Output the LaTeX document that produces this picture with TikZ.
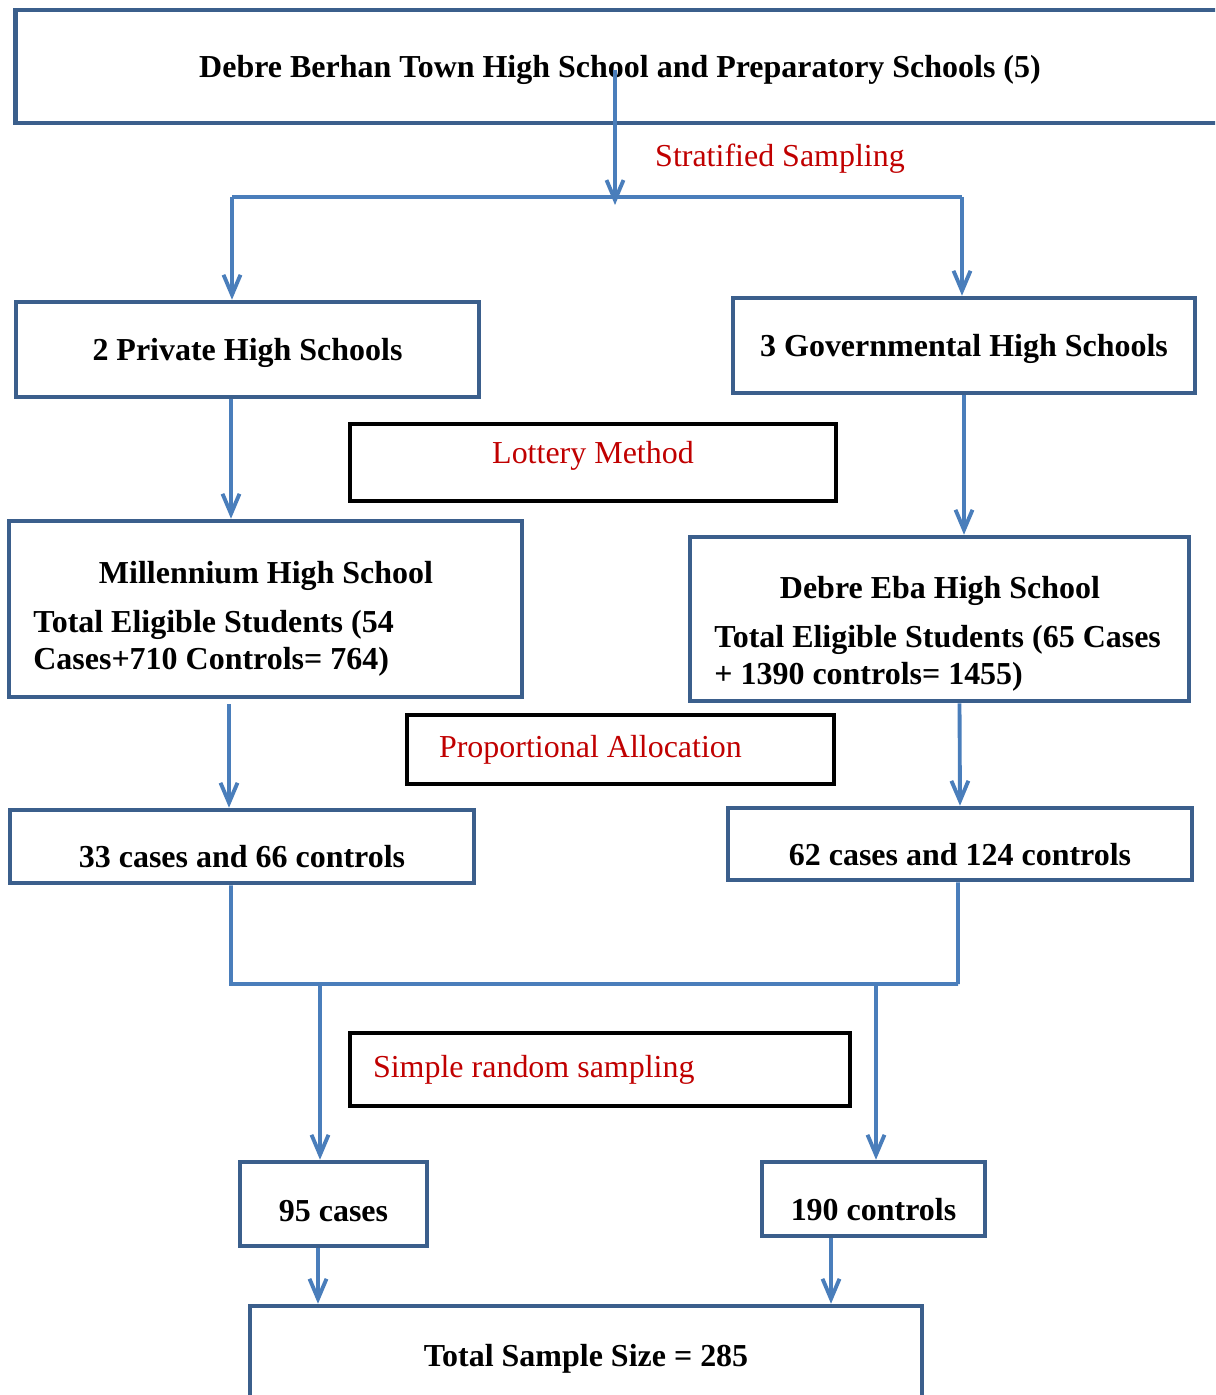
\documentclass[tikz,border=0pt]{standalone}
\usepackage{fontspec}
\setmainfont{Liberation Serif}
\usetikzlibrary{arrows.meta, positioning}

\definecolor{boxblue}{HTML}{3B5F8C}
\definecolor{flowblue}{HTML}{4A7EBB}
\definecolor{methodred}{HTML}{C00000}

\tikzset{
  box/.style={draw=boxblue, line width=2.6pt, fill=white, align=center, text depth=0pt,
    font=\bfseries\fontsize{18.2}{21}\selectfont},
  methodbox/.style={draw=black, line width=2.6pt, text=methodred,
    font=\fontsize{18.2}{21}\selectfont},
  sunk/.style={text height=#1, text depth=0pt},
  flow/.style={draw=flowblue, line width=2.2pt, -{Straight Barb[length=4mm, width=3.4mm]}},
  link/.style={draw=flowblue, line width=2.2pt}
}

\begin{document}
\begin{tikzpicture}[x=0.02cm, y=-0.02cm]
        \useasboundingbox (0,0) rectangle (1215,1395);
        \clip (0,0) rectangle (1215,1395);

        % boxes
        \node (top) [box, minimum width=24.18cm, minimum height=2.26cm] at (620,66.5)
          {Debre Berhan Town High School and Preparatory Schools (5)};
        \node (private) [box, minimum width=9.26cm, minimum height=1.9cm] at (247.5,349.5) {2 Private High Schools};
        \node (gov) [box, minimum width=9.24cm, minimum height=1.9cm] at (964,345.5) {3 Governmental High Schools};
        \node (mill) [box, minimum width=10.26cm, minimum height=3.52cm] at (265.5,609) {};
        \node (eba) [box, minimum width=9.98cm, minimum height=3.28cm] at (939.5,619) {};
        \node (c33) [box, sunk=24pt, minimum width=9.28cm, minimum height=1.46cm] at (242,846.5) {33 cases and 66 controls};
        \node (c62) [box, sunk=25pt, minimum width=9.28cm, minimum height=1.44cm] at (960,844) {62 cases and 124 controls};
        \node (cases) [box, sunk=19.6pt, minimum width=3.74cm, minimum height=1.68cm] at (333.5,1204) {95 cases};
        \node (controls) [box, sunk=25pt, minimum width=4.46cm, minimum height=1.48cm] at (873.5,1199) {190 controls};
        \node (total) [box, minimum width=13.44cm, minimum height=1.96cm] at (586,1355) {Total Sample Size = 285};

        % texts of the two school boxes
        \node (millname) [font=\bfseries\fontsize{18.2}{21}\selectfont, text depth=0pt] at (266,572) {Millennium High School};
        \node (millinfo) [font=\bfseries\fontsize{18.2}{21}\selectfont, align=left, anchor=west, inner sep=0pt] at (33,643)
          {Total Eligible Students (54\\Cases+710 Controls= 764)};
        \node (ebaname) [font=\bfseries\fontsize{18.2}{21}\selectfont, text depth=0pt] at (940,587) {Debre Eba High School};
        \node (ebainfo) [font=\bfseries\fontsize{18.2}{21}\selectfont, align=left, anchor=west, inner sep=0pt] at (714,658)
          {Total Eligible Students (65 Cases\\+ 1390 controls= 1455)};

        % sampling methods
        \node (strat) [text=methodred, font=\fontsize{18.2}{21}\selectfont] at (780,159) {Stratified Sampling};
        \node (lottery) [methodbox, text depth=11pt, minimum width=9.72cm, minimum height=1.54cm] at (593,462.5) {Lottery Method};
        \node (propo) [methodbox, align=flush left, text width=7.26cm, inner xsep=0.64cm, minimum height=1.38cm] at (620.5,749.5)
          {Proportional Allocation};
        \node (simple) [methodbox, align=flush left, text width=9.08cm, inner xsep=0.46cm, minimum height=1.46cm] at (600,1069.5)
          {Simple random sampling};

        % junctions
        \coordinate (topsrc) at (615,70);
        \coordinate (split) at (615,205);
        \coordinate (splitL) at (232,197);
        \coordinate (splitR) at (962,197);
        \coordinate (joinL) at (231,984);
        \coordinate (joinR) at (958,984);
        \coordinate (dropL) at (320,984);
        \coordinate (dropR) at (876,984);

        \draw[flow] (topsrc) -- (split);
        \draw[link] (splitL) -- (splitR);
        \draw[flow] (splitL) -- (splitL |- private.north);
        \draw[flow] (splitR) -- (splitR |- gov.north);

        \draw[flow] ([xshift=-0.33cm]private.south) -- ([xshift=-0.33cm]private.south |- mill.north);
        \draw[flow] (gov.south) -- (gov.south |- eba.north);

        \draw[flow] ([xshift=-0.73cm, yshift=-0.1cm]mill.south) -- ([xshift=-0.73cm]mill.south |- c33.north);
        \draw[flow] ([xshift=0.4cm]eba.south) -- (c62.north);

        \draw[link] ([xshift=-0.22cm]c33.south) -- (joinL) -- (joinR);
        \draw[link] ([xshift=-0.04cm]c62.south) -- (joinR);
        \draw[flow] (dropL) -- (dropL |- cases.north);
        \draw[flow] (dropR) -- (dropR |- controls.north);

        \draw[flow] ([xshift=-0.31cm]cases.south) -- ([xshift=-0.31cm]cases.south |- total.north);
        \draw[flow] ([xshift=-0.85cm]controls.south) -- ([xshift=-0.85cm]controls.south |- total.north);
    \end{tikzpicture}
\end{document}
